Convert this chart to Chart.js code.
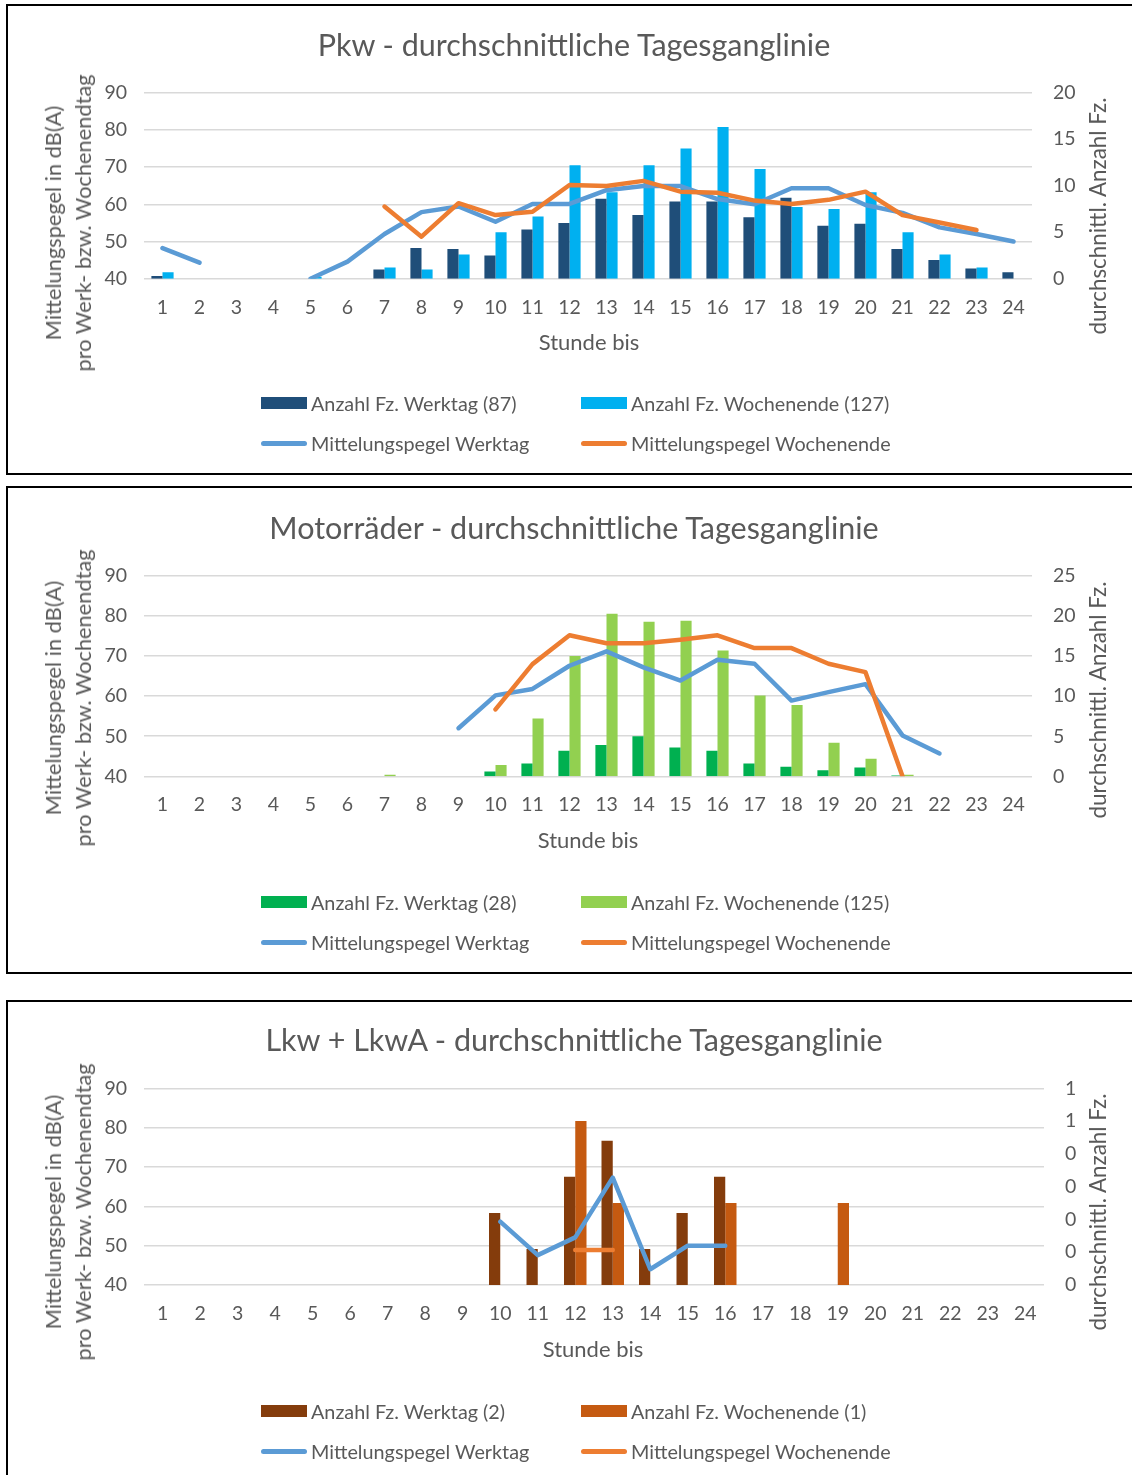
<!DOCTYPE html>
<html><head><meta charset="utf-8">
<script src="https://cdn.jsdelivr.net/npm/chart.js@4.4.1/dist/chart.umd.min.js"></script>
<style>
html,body{margin:0;padding:0;background:#fff;}
body{width:1132px;height:1475px;position:relative;overflow:hidden;font-family:Lato,"Open Sans",sans-serif;color:#595959;}
.box{position:absolute;left:6px;width:1140px;border:2px solid #000;box-sizing:border-box;}
canvas{position:absolute;left:0;}
.c{position:absolute;white-space:nowrap;transform:translate(-50%,-50%);}
.title{font-size:30.5px;}
.xt{font-size:22px;}
.at{position:absolute;white-space:nowrap;transform:translate(-50%,-50%) rotate(-90deg);font-size:21.8px;line-height:30px;text-align:center;}
.lg{position:absolute;display:flex;align-items:center;transform:translateY(-50%);font-size:19.8px;white-space:nowrap;}
.mk{width:46px;height:12px;margin-right:4px;}
.ml{width:46px;height:5px;border-radius:3px;margin-right:4px;}
</style></head>
<body>
<div class="box" style="top:4px;height:471px;"></div>
<div class="box" style="top:486px;height:488px;"></div>
<div class="box" style="top:1000px;height:490px;"></div>
<canvas id="c1" width="1132" height="475" style="top:0px"></canvas>
<canvas id="c2" width="1132" height="488" style="top:486px"></canvas>
<canvas id="c3" width="1132" height="475" style="top:1000px"></canvas>
<div id="overlay"></div>
<script>
// ---------- data ----------
const hours = ['1','2','3','4','5','6','7','8','9','10','11','12','13','14','15','16','17','18','19','20','21','22','23','24'];

// Pkw
const pkwWerktagCount    = [0.3,null,null,null,null,null,1.0,3.3,3.2,2.5,5.3,6.0,8.6,6.85,8.3,8.3,6.6,8.7,5.7,5.9,3.2,2.0,1.1,0.7];
const pkwWochenendeCount = [0.7,null,null,null,0.2,null,1.2,1.0,2.6,5.0,6.7,12.2,9.3,12.2,14.0,16.3,11.8,7.7,7.5,9.3,5.0,2.6,1.2,null];
const pkwWerktagLevel    = [48.2,44.3,null,null,40.0,44.6,52.0,57.9,59.4,55.3,60.1,60.1,63.8,64.9,64.9,61.4,60.0,64.3,64.3,59.8,57.7,53.8,52.0,50.0];
const pkwWochenendeLevel = [null,null,null,null,null,null,59.4,51.3,60.3,57.1,58.0,65.2,64.9,66.3,63.4,63.1,61.0,60.1,61.2,63.4,57.1,55.1,53.1,null];

// Motorräder
const motoWerktagCount    = [null,null,null,null,null,null,null,null,null,0.6,1.6,3.2,3.9,5.0,3.6,3.2,1.6,1.2,0.75,1.1,0.1,null,null,null];
const motoWochenendeCount = [null,null,null,null,null,null,0.2,null,null,1.4,7.2,15.0,20.3,19.3,19.4,15.7,10.1,8.9,4.2,2.2,0.2,null,null,null];
const motoWerktagLevel    = [null,null,null,null,null,null,null,null,52.0,60.2,61.8,67.6,71.2,67.2,63.9,69.1,68.1,58.9,61.0,63.0,50.2,45.7,null,null];
const motoWochenendeLevel = [null,null,null,null,null,null,null,null,null,56.7,68.0,75.2,73.2,73.2,74.1,75.2,72.0,72.0,68.1,66.0,40.0,null,null,null];

// Lkw + LkwA
const lkwWerktagCount    = [null,null,null,null,null,null,null,null,null,0.22,0.11,0.33,0.44,0.11,0.22,0.33,null,null,null,null,null,null,null,null];
const lkwWochenendeCount = [null,null,null,null,null,null,null,null,null,null,null,0.5,0.25,null,null,0.25,null,null,0.25,null,null,null,null,null];
const lkwWerktagLevel    = [null,null,null,null,null,null,null,null,null,56.1,47.6,52.1,67.3,44.0,50.0,50.0,null,null,null,null,null,null,null,null];
const lkwWochenendeLevel = [null,null,null,null,null,null,null,null,null,null,null,48.9,48.9,null,null,null,null,null,null,null,null,null,null,null];

// text
const charts = [
  {id:'c1', title:'Pkw - durchschnittliche Tagesganglinie', barW:pkwWerktagCount, barE:pkwWochenendeCount, lineW:pkwWerktagLevel, lineE:pkwWochenendeLevel,
   legW:'Anzahl Fz. Werktag (87)', legE:'Anzahl Fz. Wochenende (127)', colW:'#1F4E79', colE:'#00B0F0', rMax:20, rStep:5, round:false,
   top:0, h:475, padTop:92.7, areaBottom:278.7, areaRight:1032,
   titleY:44, xTitle:[589,341], axisY:223, rTitleY:216, legY:[403,443]},
  {id:'c2', title:'Motorräder - durchschnittliche Tagesganglinie', barW:motoWerktagCount, barE:motoWochenendeCount, lineW:motoWerktagLevel, lineE:motoWochenendeLevel,
   legW:'Anzahl Fz. Werktag (28)', legE:'Anzahl Fz. Wochenende (125)', colW:'#00B050', colE:'#92D050', rMax:25, rStep:5, round:false,
   top:486, h:488, padTop:90, areaBottom:290.3, areaRight:1032,
   titleY:527, xTitle:[588,839], axisY:698, rTitleY:700, legY:[902,942]},
  {id:'c3', title:'Lkw + LkwA - durchschnittliche Tagesganglinie', barW:lkwWerktagCount, barE:lkwWochenendeCount, lineW:lkwWerktagLevel, lineE:lkwWochenendeLevel,
   legW:'Anzahl Fz. Werktag (2)', legE:'Anzahl Fz. Wochenende (1)', colW:'#843C0C', colE:'#C55A11', rMax:0.6, rStep:0.1, round:true,
   top:1000, h:475, padTop:88.3, areaBottom:285, areaRight:1044,
   titleY:1039, xTitle:[593,1348], axisY:1212, rTitleY:1212, legY:[1411,1451]}
];

const FONT = 'Lato, "Open Sans", sans-serif';
const TXT = '#595959';
const LINE_W = '#5B9BD5', LINE_E = '#ED7D31';
const overlay = document.getElementById('overlay');
function addDiv(cls, html, x, y, extra){
  const d = document.createElement('div');
  d.className = cls; d.innerHTML = html;
  d.style.left = x + 'px'; d.style.top = y + 'px';
  if (extra) Object.assign(d.style, extra);
  overlay.appendChild(d); return d;
}

charts.forEach(cfg => {
  const ctx = document.getElementById(cfg.id);
  const xH = 60;
  new Chart(ctx, {
    data: {
      labels: hours,
      datasets: [
        {type:'line', label:'Mittelungspegel Wochenende', data:cfg.lineE, yAxisID:'y', borderColor:LINE_E, backgroundColor:LINE_E,
         borderWidth:4.5, pointRadius:0, borderCapStyle:'round', borderJoinStyle:'round', spanGaps:false, tension:0, order:0},
        {type:'line', label:'Mittelungspegel Werktag', data:cfg.lineW, yAxisID:'y', borderColor:LINE_W, backgroundColor:LINE_W,
         borderWidth:4.5, pointRadius:0, borderCapStyle:'round', borderJoinStyle:'round', spanGaps:false, tension:0, order:1},
        {type:'bar', label:cfg.legW, data:cfg.barW, yAxisID:'y1', backgroundColor:cfg.colW, categoryPercentage:0.6, barPercentage:1.0, order:2},
        {type:'bar', label:cfg.legE, data:cfg.barE, yAxisID:'y1', backgroundColor:cfg.colE, categoryPercentage:0.6, barPercentage:1.0, order:2}
      ]
    },
    options: {
      responsive:false, animation:false, devicePixelRatio:1,
      layout:{padding:{top:cfg.padTop, left:0, right:0, bottom:cfg.h - cfg.areaBottom - xH}},
      plugins:{legend:{display:false}, title:{display:false}, tooltip:{enabled:false}},
      scales:{
        x:{type:'category', offset:true, grid:{display:false}, border:{display:false},
           ticks:{color:TXT, font:{family:FONT, size:19.5}, padding:9, maxRotation:0, autoSkip:false},
           afterFit:(s)=>{ s.height = xH; }},
        y:{position:'left', min:40, max:90, ticks:{stepSize:10, color:TXT, font:{family:FONT, size:19.5}, padding:17},
           grid:{color:'#D9D9D9', lineWidth:1.5, drawTicks:false}, border:{display:false},
           afterFit:(s)=>{ s.width = 144; }},
        y1:{position:'right', min:0, max:cfg.rMax,
            ticks:{stepSize:cfg.rStep, color:TXT, font:{family:FONT, size:19.5}, padding:21,
                   callback:(v)=> cfg.round ? String(Math.round(Math.round(v*10)/10)) : String(v)},
            grid:{display:false, drawTicks:false}, border:{display:false},
            afterFit:(s)=>{ s.width = 1132 - cfg.areaRight; }}
      }
    }
  });

  addDiv('c title', cfg.title, 574, cfg.titleY);
  addDiv('c xt', 'Stunde bis', cfg.xTitle[0], cfg.xTitle[1]);
  addDiv('at', 'Mittelungspegel in dB(A)<br>pro Werk- bzw. Wochenendtag', 68, cfg.axisY);
  addDiv('at', 'durchschnittl. Anzahl Fz.', 1098, cfg.rTitleY, {lineHeight:'24px', fontSize:'22.4px'});
  const [r1, r2] = cfg.legY;
  addDiv('lg', '<span class="mk" style="background:'+cfg.colW+'"></span>'+cfg.legW, 261, r1);
  addDiv('lg', '<span class="mk" style="background:'+cfg.colE+'"></span>'+cfg.legE, 581, r1);
  addDiv('lg', '<span class="ml" style="background:'+LINE_W+'"></span>Mittelungspegel Werktag', 261, r2);
  addDiv('lg', '<span class="ml" style="background:'+LINE_E+'"></span>Mittelungspegel Wochenende', 581, r2);
});
</script>
</body></html>
